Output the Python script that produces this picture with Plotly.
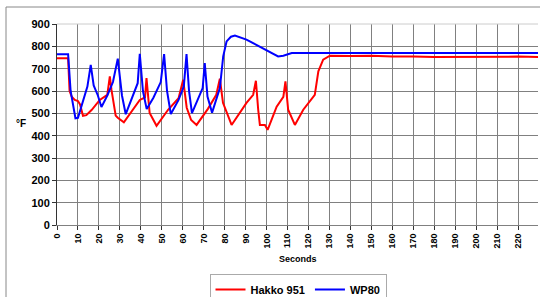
import plotly.graph_objects as go

# WP80 (blue)
wp80_t = [0, 5.3, 6.5, 8.8, 10, 12, 14.5, 16.1, 17.5, 19.5, 21.2, 24, 26.7, 29, 31, 32.8,
          36, 38.5, 39.5, 41, 42.8, 46, 49.5, 51.1, 52.5, 54.3, 58, 60.5, 61.8, 63, 64.4,
          67, 69.5, 70.5, 71.8, 74, 77.7, 79.3, 80.9, 83, 84.9, 90.4, 95, 100, 105.5, 108,
          112, 230]
wp80_v = [765, 765, 600, 478, 480, 540, 620, 717, 625, 580, 528, 580, 640, 745, 580, 496,
          570, 635, 766, 600, 519, 570, 640, 765, 600, 497, 560, 620, 765, 600, 501,
          560, 613, 725, 575, 503, 613, 755, 822, 843, 848, 830, 808, 785, 755, 758,
          770, 770]

# Hakko 951 (red)
hakko_t = [0, 5.3, 6, 7, 8.5, 10, 11, 12.4, 14, 16.6, 20.4, 24, 25.2, 26, 28, 29, 31.9,
           35, 39.5, 42, 42.7, 44.2, 47.5, 53, 58, 60.2, 61.9, 64, 66.6, 72, 76, 77.7,
           79.2, 83.3, 90.4, 93.6, 94.9, 96, 96.8, 99.2, 100.5, 104.8, 108, 109, 110.3,
           113.5, 117.5, 123, 124.7, 127, 130.2, 140, 150, 160, 170, 180, 190, 200, 210,
           220, 230]
hakko_v = [747, 747, 600, 575, 560, 555, 540, 489, 492, 516, 560, 583, 665, 605, 490, 480,
           460, 500, 560, 571, 658, 502, 444, 516, 568, 650, 525, 470, 448, 520, 583, 655,
           547, 448, 547, 583, 646, 516, 448, 448, 426, 530, 574, 643, 516,
           448, 516, 583, 688, 740, 758, 757, 758, 754, 755, 752, 753, 754, 752,
           754, 752]

x_ticks = list(range(0, 230, 10))
y_ticks = list(range(0, 1000, 100))

FONT = "Liberation Sans, Arial, sans-serif"

fig = go.Figure()
fig.add_trace(go.Scatter(x=hakko_t, y=hakko_v, mode="lines", name="Hakko 951",
                         line=dict(color="#ff0000", width=2)))
fig.add_trace(go.Scatter(x=wp80_t, y=wp80_v, mode="lines", name="WP80",
                         line=dict(color="#0000ff", width=2)))

L, R, T, B = 57, 538, 24, 225
W, H = 540, 297

def px(xp):
    return (xp - L) / (R - L)

def py(yp):
    return (B - yp) / (B - T)

fig.update_layout(
    width=W, height=H,
    margin=dict(l=L, r=W - R, t=T, b=H - B, autoexpand=False),
    paper_bgcolor="white", plot_bgcolor="white",
    font=dict(family=FONT, size=11, color="black"),
    showlegend=True,
    legend=dict(orientation="h", x=px(298), y=py(274), xanchor="center", yanchor="top",
                bordercolor="#aaaaaa", borderwidth=1, bgcolor="white",
                font=dict(family=FONT, size=11, weight="bold"),
                itemwidth=30, tracegroupgap=0),
    xaxis=dict(range=[0, 229.5], tickvals=x_ticks, ticktext=[str(v) for v in x_ticks],
               tickangle=-90, tickfont=dict(family=FONT, size=9, weight="bold"),
               showgrid=True, gridcolor="#808080", gridwidth=1,
               showline=True, linecolor="#808080", linewidth=1,
               ticks="outside", ticklen=4, tickcolor="#333", zeroline=False, mirror=False),
    yaxis=dict(range=[0, 900], tickvals=y_ticks,
               tickfont=dict(family=FONT, size=11, weight="bold"),
               showgrid=True, gridcolor="#808080", gridwidth=1,
               showline=True, linecolor="#333", linewidth=1,
               ticks="outside", ticklen=4, tickcolor="#333", zeroline=False),
    annotations=[
        dict(text="°F", x=px(21), y=py(123), xref="paper", yref="paper",
             xanchor="center", yanchor="middle",
             showarrow=False, font=dict(family=FONT, size=10, weight="bold")),
        dict(text="Seconds", x=px(298), y=py(259), xref="paper", yref="paper",
             xanchor="center", yanchor="middle",
             showarrow=False, font=dict(family=FONT, size=9, weight="bold")),
    ],
    shapes=[
        dict(type="line", xref="paper", yref="paper", x0=px(6), x1=px(540), y0=py(7), y1=py(7),
             line=dict(color="#888", width=1)),
        dict(type="line", xref="paper", yref="paper", x0=px(6), x1=px(6), y0=py(7), y1=py(297),
             line=dict(color="#888", width=1)),
        dict(type="line", xref="paper", yref="paper", x0=0, x1=1, y0=1, y1=1,
             line=dict(color="#cccccc", width=1)),
    ],
)

fig.write_html("out.html", config={"displayModeBar": False},
               post_script="document.body.style.margin='0';document.body.style.overflow='hidden';")
